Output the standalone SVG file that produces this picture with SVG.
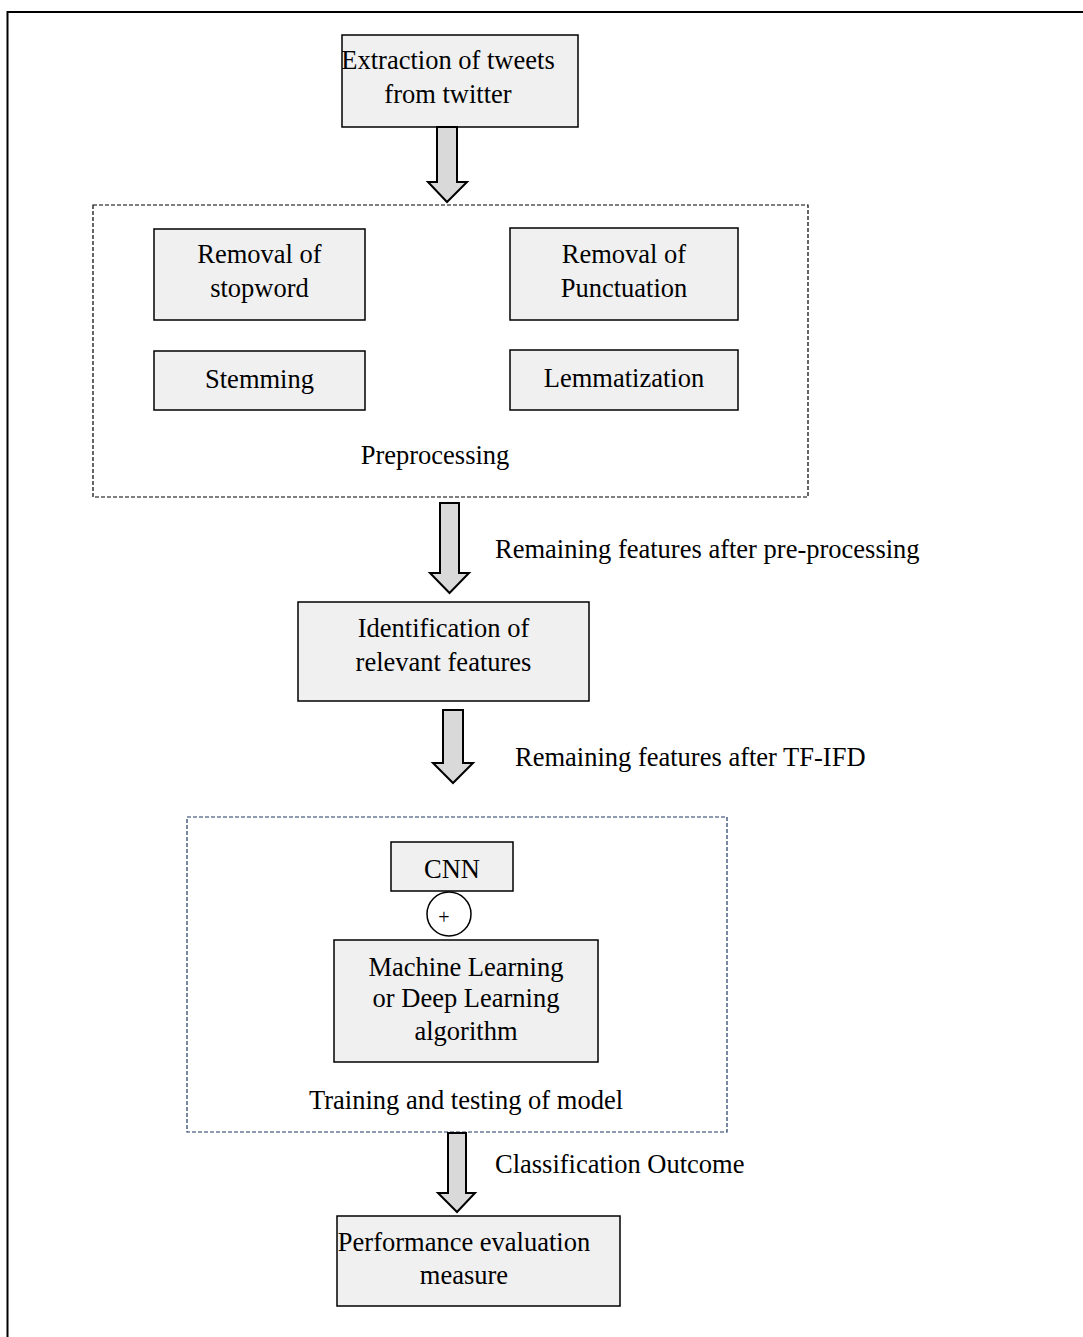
<svg xmlns="http://www.w3.org/2000/svg" width="1083" height="1337" viewBox="0 0 1083 1337">
<style>
.box{fill:#f0f0f0;stroke:#000;stroke-width:1.5}
.t{font-family:"Liberation Serif","Times New Roman",serif;font-size:26.5px;fill:#000}
.c{text-anchor:middle}
.arr{fill:#d9d9d9;stroke:#000;stroke-width:2;stroke-linejoin:miter}
.dash1{fill:none;stroke:#000;stroke-width:1.2;stroke-dasharray:4,2}
.dash2{fill:none;stroke:#1f3864;stroke-width:1.2;stroke-dasharray:4,2}
</style>
<rect width="1083" height="1337" fill="#fff"/>
<rect x="7.5" y="12" width="1100" height="1350" fill="none" stroke="#000" stroke-width="2"/>

<g id="preprocessing">
<rect class="dash1" x="93" y="205" width="715" height="292"/>
<text class="t c" x="435" y="464">Preprocessing</text>
</g>
<g id="training">
<rect class="dash2" x="187" y="817" width="540" height="315"/>
<text class="t c" x="466" y="1109">Training and testing of model</text>
</g>

<g id="extraction">
<rect class="box" x="342" y="35" width="236" height="92"/>
<text class="t c" x="448" y="69">Extraction of tweets</text>
<text class="t c" x="448" y="103">from twitter</text>
</g>
<g id="stopword">
<rect class="box" x="154" y="229" width="211" height="91"/>
<text class="t c" x="259.5" y="263">Removal of</text>
<text class="t c" x="259.5" y="297">stopword</text>
</g>
<g id="punctuation">
<rect class="box" x="510" y="228" width="228" height="92"/>
<text class="t c" x="624" y="263">Removal of</text>
<text class="t c" x="624" y="297">Punctuation</text>
</g>
<g id="stemming">
<rect class="box" x="154" y="351" width="211" height="59"/>
<text class="t c" x="259.5" y="388">Stemming</text>
</g>
<g id="lemmatization">
<rect class="box" x="510" y="350" width="228" height="60"/>
<text class="t c" x="624" y="387">Lemmatization</text>
</g>
<g id="identification">
<rect class="box" x="298" y="602" width="291" height="99"/>
<text class="t c" x="443.5" y="637">Identification of</text>
<text class="t c" x="443.5" y="671">relevant features</text>
</g>
<g id="cnn">
<rect class="box" x="391" y="842" width="122" height="49"/>
<text class="t c" x="452" y="878">CNN</text>
</g>
<g id="plus">
<circle cx="449" cy="914" r="22" fill="#fff" stroke="#000" stroke-width="1.5"/>
<text x="444" y="924" text-anchor="middle" font-family="Liberation Serif, serif" font-size="20">+</text>
</g>
<g id="ml">
<rect class="box" x="334" y="940" width="264" height="122"/>
<text class="t c" x="466" y="976">Machine Learning</text>
<text class="t c" x="466" y="1007">or Deep Learning</text>
<text class="t c" x="466" y="1040">algorithm</text>
</g>
<g id="performance">
<rect class="box" x="337" y="1216" width="283" height="90"/>
<text class="t c" x="464" y="1251">Performance evaluation</text>
<text class="t c" x="464" y="1284">measure</text>
</g>

<g id="connectors">
<polygon class="arr" points="437,127 457,127 457,182 467,182 447,202 428,182 437,182"/>
<polygon class="arr" points="440,503 459,503 459,573 469,573 449.5,593 430,573 440,573"/>
<polygon class="arr" points="443,710 463,710 463,763 473,763 453,783 433,763 443,763"/>
<polygon class="arr" points="448,1133 466,1133 466,1193 475,1193 457,1212 438,1193 448,1193"/>
<text class="t" x="495" y="558">Remaining features after pre-processing</text>
<text class="t" x="515" y="766">Remaining features after TF-IFD</text>
<text class="t" x="495" y="1173">Classification Outcome</text>
</g>
</svg>
